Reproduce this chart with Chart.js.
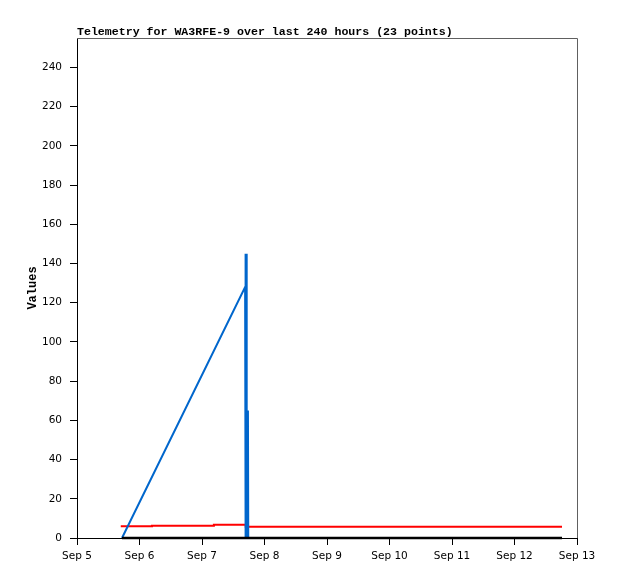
<!DOCTYPE html>
<html>
<head>
<meta charset="utf-8">
<script src="https://cdn.jsdelivr.net/npm/chart.js@4"></script>
<style>
  body { margin: 0; background: #fff; }
  canvas { display: block; }
</style>
</head>
<body>
<canvas id="myChart" width="618" height="579"></canvas>
<script>
// days of September (fractional)
var blueX = [5.72, 7.69, 7.695, 7.70, 7.705, 7.715, 7.735, 7.74, 12.76];
var blueY = [0, 128, 145, 0, 145, 0, 65, 0, 0];
var redX = [5.70, 6.20, 7.19, 7.70, 12.76];
var redY = [6.0, 6.3, 6.7, 5.7, 5.7];
var blackX = [5.72, 12.76];
var blackY = [0, 0];
var dayTicks = [5, 6, 7, 8, 9, 10, 11, 12, 13];
var titleText = 'Telemetry for WA3RFE-9 over last 240 hours (23 points)';

function pts(xs, ys) {
  var out = [];
  for (var i = 0; i < xs.length; i++) {
    out.push({ x: xs[i], y: ys[i] });
  }
  return out;
}

var frame = {
  id: 'frame',
  afterDraw: function (chart) {
    var c = chart.ctx;
    var a = chart.chartArea;
    c.save();
    c.strokeStyle = '#606060';
    c.lineWidth = 1;
    c.beginPath();
    c.moveTo(a.left, a.top + 0.5);
    c.lineTo(a.right + 0.5, a.top + 0.5);
    c.lineTo(a.right + 0.5, a.bottom);
    c.stroke();
    c.fillStyle = '#000';
    c.font = 'bold 11.6px "Liberation Mono", "DejaVu Sans Mono", monospace';
    c.textAlign = 'left';
    c.textBaseline = 'alphabetic';
    c.fillText(titleText, a.left, a.top - 3);
    c.restore();
  }
};

var ctx = document.getElementById('myChart').getContext('2d');
var myChart = new Chart(ctx, {
  type: 'line',
  data: {
    datasets: [
      {
        label: 'zero',
        data: pts(blackX, blackY),
        borderColor: '#000000',
        borderWidth: 2.5,
        pointRadius: 0,
        clip: false
      },
      {
        label: 'blue',
        data: pts(blueX, blueY),
        borderColor: '#0066cc',
        borderWidth: 2,
        pointRadius: 0,
        tension: 0,
        clip: false
      },
      {
        label: 'red',
        data: pts(redX, redY),
        borderColor: '#ff0000',
        borderWidth: 2,
        pointRadius: 0,
        stepped: true,
        clip: false
      }
    ]
  },
  options: {
    responsive: false,
    animation: false,
    layout: { padding: { left: 0, top: 38, right: 41, bottom: 0 } },
    plugins: {
      legend: { display: false },
      tooltip: { enabled: false }
    },
    scales: {
      x: {
        type: 'linear',
        min: 5,
        max: 13,
        afterBuildTicks: function (scale) {
          scale.ticks = dayTicks.map(function (v) { return { value: v }; });
        },
        afterFit: function (scale) { scale.height = 41; },
        ticks: {
          color: '#000',
          padding: 5,
          maxRotation: 0,
          autoSkip: false,
          font: { family: '"DejaVu Sans", sans-serif', size: 10.5 },
          callback: function (v) { return 'Sep ' + v; }
        },
        grid: {
          drawOnChartArea: false,
          drawTicks: true,
          tickLength: 7,
          color: '#000'
        },
        border: { display: true, color: '#000', width: 1 }
      },
      y: {
        min: 0,
        max: 255,
        afterBuildTicks: function (scale) {
          scale.ticks = scale.ticks.filter(function (t) { return t.value % 20 === 0; });
        },
        afterFit: function (scale) { scale.width = 77; },
        ticks: {
          stepSize: 20,
          color: '#000',
          padding: 8,
          font: { family: '"DejaVu Sans", sans-serif', size: 10.5 }
        },
        grid: {
          drawOnChartArea: false,
          drawTicks: true,
          tickLength: 7,
          color: '#000'
        },
        border: { display: true, color: '#000', width: 1 },
        title: {
          display: true,
          text: 'Values',
          color: '#000',
          padding: { top: 26, bottom: 0 },
          font: { family: '"Liberation Mono", "DejaVu Sans Mono", monospace', size: 12, weight: 'bold' }
        }
      }
    }
  },
  plugins: [frame]
});
</script>
</body>
</html>
